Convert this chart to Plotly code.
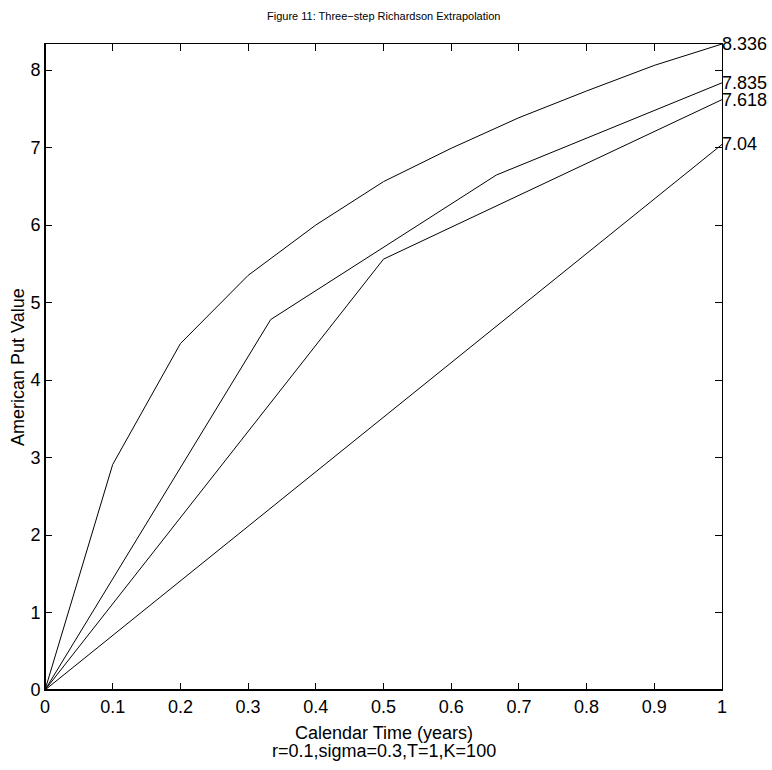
import plotly.graph_objects as go

# ---- data ----
t_ten = [0.0, 0.1, 0.2, 0.3, 0.4, 0.5, 0.6, 0.7, 0.8, 0.9, 1.0]
v_ten = [0.0, 2.91, 4.47, 5.35, 6.00, 6.56, 6.99, 7.385, 7.73, 8.06, 8.336]
t_three = [0.0, 1/3, 2/3, 1.0]
v_three = [0.0, 4.78, 6.645, 7.835]
t_two = [0.0, 0.5, 1.0]
v_two = [0.0, 5.56, 7.618]
t_one = [0.0, 1.0]
v_one = [0.0, 7.04]
end_labels = ["8.336", "7.835", "7.618", "7.04"]
end_values = [8.336, 7.835, 7.618, 7.04]
x_ticks = [0, 0.1, 0.2, 0.3, 0.4, 0.5, 0.6, 0.7, 0.8, 0.9, 1]
x_ticktext = ["0", "0.1", "0.2", "0.3", "0.4", "0.5", "0.6", "0.7", "0.8", "0.9", "1"]
y_ticks = [0, 1, 2, 3, 4, 5, 6, 7, 8]

FONT = "Liberation Sans, Arial, Helvetica, sans-serif"
FS = 18

fig = go.Figure()
for xs, ys in [(t_ten, v_ten), (t_three, v_three), (t_two, v_two), (t_one, v_one)]:
    fig.add_trace(go.Scatter(x=xs, y=ys, mode="lines",
                             line=dict(color="black", width=1),
                             showlegend=False, hoverinfo="skip"))

annotations = []
for lab, val in zip(end_labels, end_values):
    annotations.append(dict(x=1, y=val, xref="x", yref="y", text=lab,
                            showarrow=False, xanchor="left", yanchor="middle",
                            xshift=-1, borderpad=0,
                            font=dict(family=FONT, size=FS, color="black")))

annotations += [
    dict(x=0.5, y=1, xref="paper", yref="paper", text="Figure 11: Three\u2212step Richardson Extrapolation",
         showarrow=False, xanchor="center", yanchor="middle", yshift=28,
         font=dict(family=FONT, size=11, color="black")),
    dict(x=0.5, y=0, xref="paper", yref="paper", text="Calendar Time (years)",
         showarrow=False, xanchor="center", yanchor="middle", yshift=-43,
         font=dict(family=FONT, size=FS, color="black")),
    dict(x=0.5, y=0, xref="paper", yref="paper", text="r=0.1,sigma=0.3,T=1,K=100",
         showarrow=False, xanchor="center", yanchor="middle", yshift=-61,
         font=dict(family=FONT, size=FS, color="black")),
    dict(x=0, y=0.5, xref="paper", yref="paper", text="American Put Value",
         showarrow=False, xanchor="center", yanchor="middle", xshift=-27, textangle=-90,
         font=dict(family=FONT, size=FS, color="black")),
]

fig.update_layout(
    width=772, height=770,
    margin=dict(l=45, r=50, t=44, b=80),
    paper_bgcolor="white", plot_bgcolor="white",
    annotations=annotations,
    font=dict(family=FONT, size=FS, color="black"),
    hovermode=False,
)
fig.update_xaxes(range=[0, 1], tickvals=x_ticks, ticktext=x_ticktext,
                 showgrid=False, zeroline=False,
                 showline=True, linecolor="black", linewidth=1, mirror="ticks",
                 ticks="inside", ticklen=7, tickcolor="black", tickwidth=1,
                 tickfont=dict(family=FONT, size=FS, color="black"))
fig.update_yaxes(range=[0, 8.336], tickvals=y_ticks,
                 showgrid=False, zeroline=False,
                 showline=True, linecolor="black", linewidth=1, mirror="ticks",
                 ticks="inside", ticklen=7, tickcolor="black", tickwidth=1,
                 tickfont=dict(family=FONT, size=FS, color="black"))
fig.add_shape(type="line", xref="paper", yref="paper", x0=0, x1=0, y0=0, y1=1,
              line=dict(color="black", width=2))
fig.add_shape(type="line", xref="paper", yref="paper", x0=0, x1=1, y0=0, y1=0,
              line=dict(color="black", width=2))

fig.write_html("out.html",
               config={"displayModeBar": False, "staticPlot": True},
               post_script="document.body.style.margin='0';document.body.style.overflow='hidden';")
